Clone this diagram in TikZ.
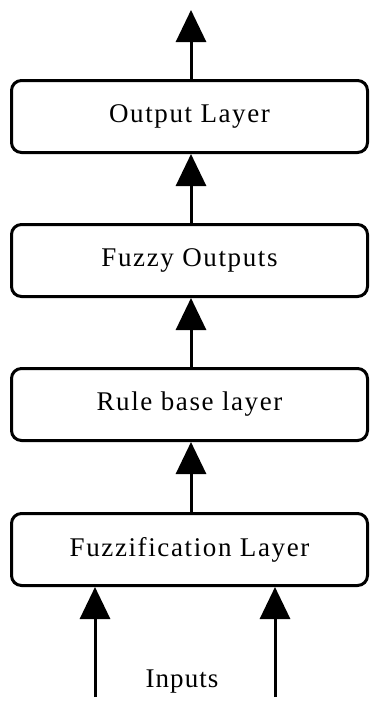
\documentclass[tikz,border=0pt]{standalone}
\usepackage{fontspec}
\setmainfont{Liberation Serif}
\usetikzlibrary{arrows.meta}
\begin{document}
\begin{tikzpicture}[x=1pt,y=-1pt,
  layerbox/.style={draw=black, line width=3pt, rounded corners=10pt, minimum width=356pt, minimum height=72pt, inner sep=0pt, font=\fontsize{27}{30}\selectfont\addfontfeatures{LetterSpace=6}},
  flow/.style={line width=3pt, -{Triangle[width=30pt,length=32pt]}}]
\useasboundingbox (0,0) rectangle (371,705);
\node[layerbox] (out) at (189.5,116.5) {Output Layer};
\node[layerbox] (fo) at (189.5,260.5) {Fuzzy Outputs};
\node[layerbox] (rb) at (189.5,404.5) {Rule base layer};
\node[layerbox] (fz) at (189.5,549.5) {Fuzzification Layer};
\coordinate (top) at (191,10);
\coordinate (in1) at (95,697);
\coordinate (in2) at (275,697);
\node[font=\fontsize{27}{30}\selectfont\addfontfeatures{LetterSpace=4}] (inp) at (182,682) {Inputs};
\draw[flow] ([xshift=1.5pt]out.north) -- (top);
\draw[flow] ([xshift=1.5pt]fo.north) -- ([xshift=1.5pt]out.south);
\draw[flow] ([xshift=1.5pt]rb.north) -- ([xshift=1.5pt]fo.south);
\draw[flow] ([xshift=1.5pt]fz.north) -- ([xshift=1.5pt]rb.south);
\draw[flow] (in1) -- (in1 |- fz.south);
\draw[flow] (in2) -- (in2 |- fz.south);
\end{tikzpicture}
\end{document}
